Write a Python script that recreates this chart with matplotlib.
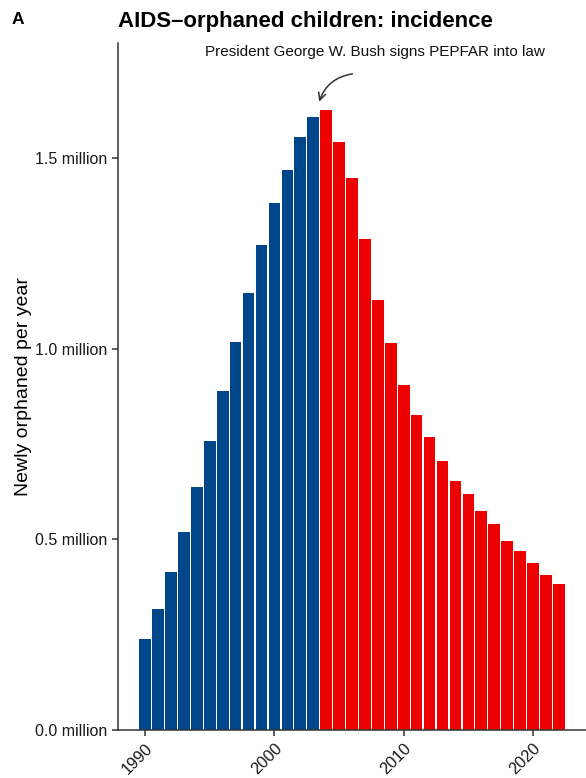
import matplotlib
matplotlib.use("Agg")
import matplotlib.pyplot as plt
import numpy as np

plt.rcParams['font.family'] = ['Liberation Sans', 'DejaVu Sans']

years = list(range(1990, 2023))
orphans_million = [0.239, 0.318, 0.415, 0.520, 0.638, 0.759, 0.890, 1.018, 1.147, 1.273,
                   1.383, 1.470, 1.556, 1.609, 1.627, 1.543, 1.449, 1.289, 1.129, 1.016,
                   0.906, 0.828, 0.769, 0.706, 0.654, 0.619, 0.575, 0.541, 0.496, 0.470,
                   0.438, 0.407, 0.383]
pepfar_year = 2004
ytick_values = [0.0, 0.5, 1.0, 1.5]
xtick_values = [1990, 2000, 2010, 2020]

blue = '#00468B'
red = '#ED0000'
colors = [blue if y < pepfar_year else red for y in years]

fig = plt.figure(figsize=(5.86, 7.78), dpi=100)
ax = fig.add_axes([118/586, 48/778, 1 - 118/586, (730-43)/778])

ax.bar(years, orphans_million, width=0.9, color=colors, linewidth=0)

ax.set_xlim(1987.9, 2024.1)
ax.set_ylim(0, 1.803)

for s in ['top', 'right']:
    ax.spines[s].set_visible(False)
for s in ['left', 'bottom']:
    ax.spines[s].set_color('#333333')
    ax.spines[s].set_linewidth(1.1)

ax.set_yticks(ytick_values)
ax.set_yticklabels([f"{v:.1f} million" for v in ytick_values])
ax.set_xticks(xtick_values)
ax.set_xticklabels([str(v) for v in xtick_values], rotation=45, ha='right', va='top',
                   rotation_mode='anchor')
ax.tick_params(axis='both', length=4.5, width=1.1, color='#333333', labelsize=11.5,
               labelcolor='#1a1a1a', pad=3)
ax.tick_params(axis='x', labelsize=11.8)

ax.set_ylabel("Newly orphaned per year", fontsize=14, color='black')
ax.yaxis.set_label_coords(-0.184, 0.5)

fig.text(118/586, 1 - 21/778, "AIDS\u2013orphaned children: incidence", fontsize=16,
         fontweight='bold', ha='left', va='center')
fig.text(12/586, 1 - 19/778, "A", fontsize=12.5, fontweight='bold', ha='left', va='center')

ax.text(2007.8, 1.78, "President George W. Bush signs PEPFAR into law", fontsize=11,
        ha='center', va='center', color='#111111')
ax.annotate("", xy=(2003.46, 1.649), xytext=(2006.04, 1.722),
            arrowprops=dict(arrowstyle='->', color='#333333', lw=1.1,
                            connectionstyle='arc3,rad=0.3', shrinkA=0, shrinkB=0,
                            mutation_scale=13))

fig.savefig("out.png", dpi=100)
